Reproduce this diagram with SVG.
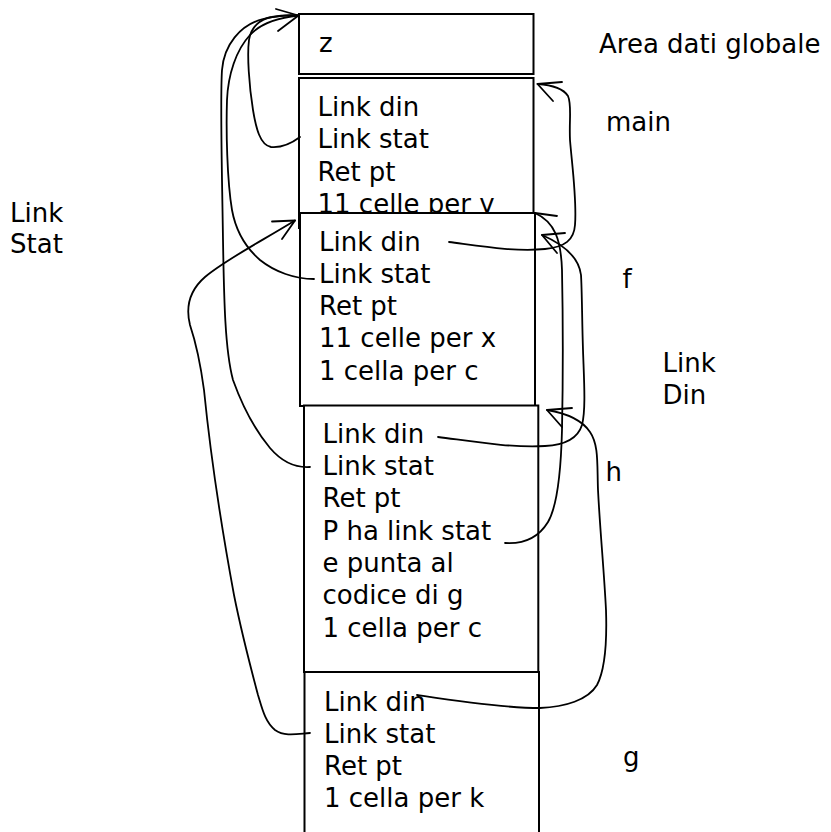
<svg xmlns="http://www.w3.org/2000/svg" width="831" height="832" viewBox="0 0 831 832">
  <style>
    .box { fill: #ffffff; stroke: #000000; stroke-width: 2; }
    .txt { font-family: "DejaVu Sans", Verdana, sans-serif; font-size: 26px; fill: #000000; }
    .wire { fill: none; stroke: #000000; stroke-width: 1.8; stroke-linecap: round; stroke-linejoin: round; }
  </style>
  <rect width="831" height="832" fill="#ffffff"/>

  <!-- global data area -->
  <g id="global">
    <rect class="box" x="299" y="14" width="234.5" height="60"/>
    <text class="txt" x="319" y="52">z</text>
  </g>

  <!-- activation record of main -->
  <g id="main">
    <rect class="box" x="299" y="78" width="234.5" height="150"/>
    <text class="txt" x="317.5" y="116">
      <tspan x="317.5">Link din</tspan>
      <tspan x="317.5" dy="32.3">Link stat</tspan>
      <tspan x="317.5" dy="32.3">Ret pt</tspan>
      <tspan x="317.5" dy="32.3">11 celle per y</tspan>
    </text>
  </g>

  <!-- activation record of f -->
  <g id="f">
    <rect class="box" x="300" y="213" width="235" height="193"/>
    <text class="txt" x="319" y="250.7">
      <tspan x="319">Link din</tspan>
      <tspan x="319" dy="32.2">Link stat</tspan>
      <tspan x="319" dy="32.2">Ret pt</tspan>
      <tspan x="319" dy="32.2">11 celle per x</tspan>
      <tspan x="319" dy="32.2">1 cella per c</tspan>
    </text>
  </g>

  <!-- activation record of h -->
  <g id="h">
    <rect class="box" x="304" y="405.5" width="234.3" height="266.5"/>
    <text class="txt" x="322.5" y="442.7">
      <tspan x="322.5">Link din</tspan>
      <tspan x="322.5" dy="32.3">Link stat</tspan>
      <tspan x="322.5" dy="32.3">Ret pt</tspan>
      <tspan x="322.5" dy="32.3">P ha link stat</tspan>
      <tspan x="322.5" dy="32.3">e punta al</tspan>
      <tspan x="322.5" dy="32.3">codice di g</tspan>
      <tspan x="322.5" dy="32.3">1 cella per c</tspan>
    </text>
  </g>

  <!-- activation record of g -->
  <g id="g">
    <rect class="box" x="304.5" y="672" width="234.5" height="175"/>
    <text class="txt" x="324" y="710.7">
      <tspan x="324">Link din</tspan>
      <tspan x="324" dy="32.1">Link stat</tspan>
      <tspan x="324" dy="32.1">Ret pt</tspan>
      <tspan x="324" dy="32.1">1 cella per k</tspan>
    </text>
  </g>

  <!-- side labels -->
  <g id="labels">
    <text class="txt" x="599" y="53.3">Area dati globale</text>
    <text class="txt" x="606" y="131">main</text>
    <text class="txt" x="10" y="221.7">
      <tspan x="10">Link</tspan>
      <tspan x="10" dy="31.6">Stat</tspan>
    </text>
    <text class="txt" x="622.5" y="287.7">f</text>
    <text class="txt" x="662.5" y="371.7">
      <tspan x="662.5">Link</tspan>
      <tspan x="662.5" dy="32.3">Din</tspan>
    </text>
    <text class="txt" x="605.5" y="480.7">h</text>
    <text class="txt" x="623" y="766">g</text>
  </g>

  <!-- static and dynamic links -->
  <g id="connectors">
    <!-- static links to the global area -->
    <path class="wire" d="M300,137 C292,143 282,148 271,147 C260,145 256,128 253,110 C249,85 247,55 249,40 C251,27 260,19 272,17 C282,15 290,15 298.5,15.5"/>
    <path class="wire" d="M314,279 C295,279 275,272 260,260 C245,247 236,232 232,210 C227,180 226,130 227,100 C228,75 236,50 250,35 C260,24 275,18 298.5,15.5"/>
    <path class="wire" d="M310,467 C295,468 282,462 270,448 C255,430 242,405 233,380 C225,350 224,300 223,240 C222,170 220,100 222,70 C224,45 240,25 263,19 C275,16 288,15 298.5,15.5"/>
    <path class="wire" d="M276,9 L298.5,15.5 L278,31"/>

    <!-- static link of g to f -->
    <path class="wire" d="M310,733 C297,734 285,737 275,730 C265,722 262,708 258,695 C250,665 240,625 234,595 C222,530 210,450 204,390 C200,360 195,340 190,325 C185,305 190,290 205,277 C225,260 260,242 295,220.5"/>
    <path class="wire" d="M272,221.5 L295,220.5 L282,239"/>

    <!-- dynamic link of f to main -->
    <path class="wire" d="M449,242 C480,246 515,252 545,249 C565,247 574,240 575,225 C577,200 572,165 570,140 C569,120 572,105 568,96 C563,88 552,85 537.5,84"/>
    <path class="wire" d="M562,82 L537.5,84 L553,101"/>

    <!-- dynamic link of h to f -->
    <path class="wire" d="M438,437 C470,441 510,448 545,446 C565,445 578,438 582,425 C586,410 584,380 583,350 C582,320 582,290 581,275 C579,258 565,245 542,235"/>
    <path class="wire" d="M565,233 L542,235 L557,253"/>

    <!-- static link of parameter P -->
    <path class="wire" d="M505,543 C520,544 537,540 548,522 C558,505 561,470 562,430 C563,380 563,320 562,270 C561,240 555,222 535,213"/>
    <path class="wire" d="M557,216 L535,213"/>

    <!-- dynamic link of g to h -->
    <path class="wire" d="M417,695 C450,700 500,708 540,708 C565,707 588,700 597,685 C606,668 607,640 606,610 C604,570 600,530 598,490 C597,465 599,445 590,432 C582,420 565,413 547,410"/>
    <path class="wire" d="M572,408 L547,410 L562,427"/>
  </g>
</svg>
